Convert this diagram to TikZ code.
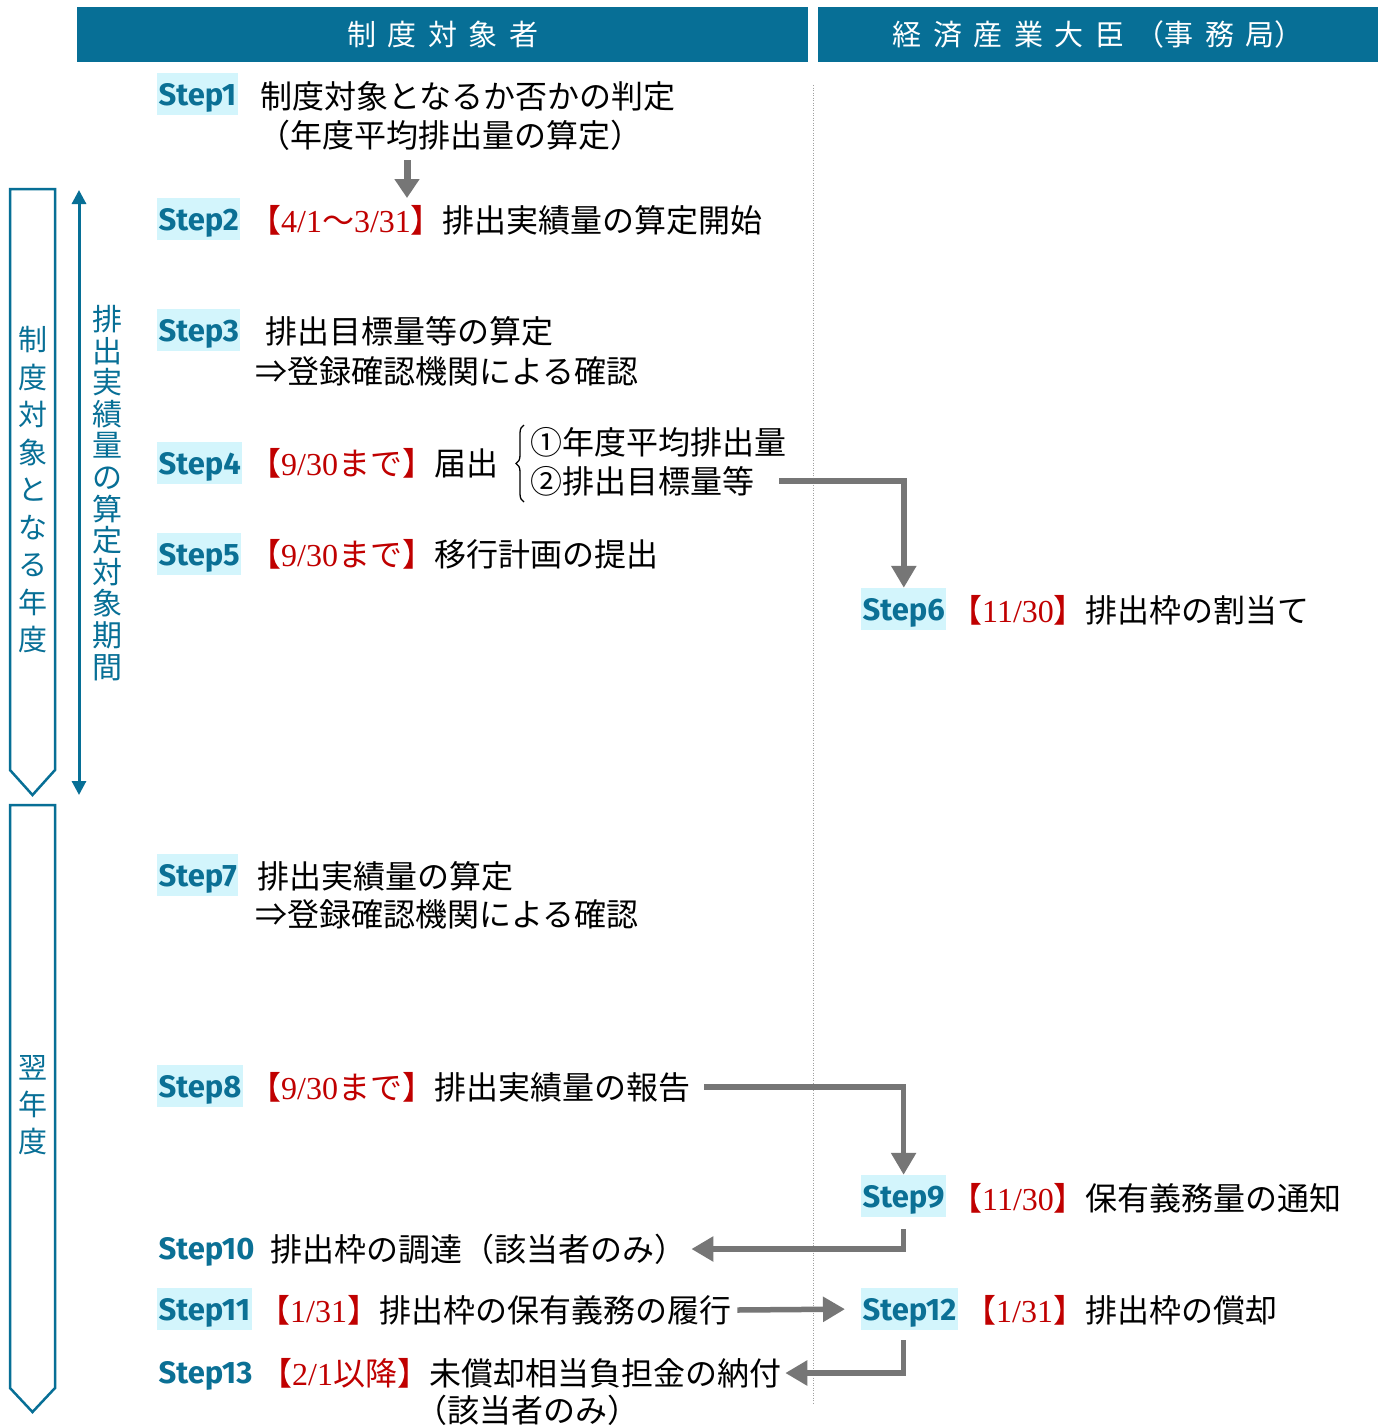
\documentclass[tikz,border=0pt]{standalone}
\usepackage{fontspec}
\setmainfont{Noto Sans CJK JP}
\newfontfamily\stepfont{Fira Sans}
\newfontfamily\numfont{Liberation Serif}
\usetikzlibrary{arrows.meta,decorations.pathreplacing}
\definecolor{hdr}{HTML}{076F96}
\definecolor{steptx}{HTML}{0B7095}
\definecolor{hlcyan}{HTML}{D3F5FC}
\definecolor{myred}{HTML}{C00000}
\definecolor{arrgray}{HTML}{767676}
\definecolor{dotgray}{HTML}{A0A0A0}
\newcommand\rdt[1]{\textcolor{myred}{#1}}
\newcommand\nm[1]{{\numfont #1}}
\newcommand\hsp{\hspace{11.5pt}}
\tikzset{
  txt/.style={anchor=west, inner sep=0pt, font=\fontsize{32}{38}\selectfont},
  steplbl/.style={anchor=west, fill=hlcyan, text=steptx, font=\stepfont\bfseries\fontsize{31}{34}\selectfont, inner xsep=1.5pt, inner ysep=0pt, text height=32pt, text depth=10pt},
  stepplain/.style={steplbl, fill=none},
  vtxt/.style={text=hdr, align=center, inner sep=0pt},
  hdrbox/.style={fill=hdr, text=white, anchor=north west, minimum height=55pt, inner sep=0pt, font=\fontsize{29}{32}\selectfont},
  yearbox/.style={draw=hdr, line width=2.5pt, fill=white, line join=miter},
  garrow/.style={draw=arrgray, line width=5.5pt, line join=miter, -{Triangle[length=22pt,width=24pt]}}
}
\begin{document}
\begin{tikzpicture}[x=1pt,y=-1pt]
\useasboundingbox (0,0) rectangle (1381,1428);
\fill[white] (0,0) rectangle (1381,1428);

% headers
\node[hdrbox, minimum width=731pt] (h1) at (77,7) {制\hsp 度\hsp 対\hsp 象\hsp 者};
\node[hdrbox, minimum width=560pt] (h2) at (818,7) {経\hsp 済\hsp 産\hsp 業\hsp 大\hsp 臣\hsp （事\hsp 務\hsp 局）};

% divider
\draw[dotgray, line width=1pt, dash pattern=on 1pt off 1.5pt] (813,85) -- (813,1405);

% year arrows
\draw[yearbox] (10,189) -- (55,189) -- (55,770) -- (32.5,795) -- (10,770) -- cycle;
\draw[yearbox] (10,805) -- (55,805) -- (55,1388) -- (32.5,1412) -- (10,1388) -- cycle;
\node[vtxt, font=\fontsize{29}{37.5}\selectfont] (v1) at (33,490) {制\\度\\対\\象\\と\\な\\る\\年\\度};
\node[vtxt, font=\fontsize{29}{37}\selectfont] (v3) at (33,1105) {翌\\年\\度};

% period double arrow
\coordinate (pa) at (79,190);
\coordinate (pb) at (79,795);
\draw[hdr, line width=3pt, {Triangle[length=14pt,width=14pt]}-{Triangle[length=14pt,width=14pt]}] (pa) -- (pb);
\node[vtxt, font=\fontsize{30}{31.6}\selectfont] (v2) at (107,493) {排\\出\\実\\績\\量\\の\\算\\定\\対\\象\\期\\間};

% Step 1
\node[steplbl] (s1) at (157,94) {Step1};
\node[txt] (t1) at (260,96) {制度対象となるか否かの判定};
\node[txt] (t1b) at (258,135) {（年度平均排出量の算定）};
\coordinate (d1) at (407,160);
\coordinate (d2) at (407,198);
\draw[arrgray, line width=7pt, -{Triangle[length=19pt,width=24pt]}] (d1) -- (d2);

% Step 2
\node[steplbl] (s2) at (157,219) {Step2};
\node[txt] (t2) at (249,220) {\rdt{【\nm{4/1}～\nm{3/31}】}排出実績量の算定開始};

% Step 3
\node[steplbl] (s3) at (157,330) {Step3};
\node[txt] (t3) at (265,331) {排出目標量等の算定};
\node[txt] (t3b) at (255,371) {⇒登録確認機関による確認};

% Step 4
\node[steplbl] (s4) at (157,463) {Step4};
\node[txt] (t4) at (249,463) {\rdt{【\nm{9/30}まで】}届出};
\draw[line width=1.3pt, decorate, decoration={brace, amplitude=8pt}] (524,502) -- (524,425);
\node[txt] (t4a) at (530,442) {①年度平均排出量};
\node[txt] (t4b) at (530,481) {②排出目標量等};

% Step 5
\node[steplbl] (s5) at (157,554) {Step5};
\node[txt] (t5) at (249,554) {\rdt{【\nm{9/30}まで】}移行計画の提出};

% Step 6
\node[steplbl] (s6) at (861,609) {Step6};
\node[txt] (t6) at (950,610) {\rdt{【\nm{11/30}】}排出枠の割当て};

% Step 7
\node[steplbl] (s7) at (157,875) {Step7};
\node[txt] (t7) at (257,876) {排出実績量の算定};
\node[txt] (t7b) at (255,914) {⇒登録確認機関による確認};

% Step 8
\node[steplbl] (s8) at (157,1086) {Step8};
\node[txt] (t8) at (249,1087) {\rdt{【\nm{9/30}まで】}排出実績量の報告};

% Step 9
\node[steplbl] (s9) at (861,1196) {Step9};
\node[txt] (t9) at (950,1198) {\rdt{【\nm{11/30}】}保有義務量の通知};

% Step 10
\node[stepplain] (s10) at (157,1248) {Step10};
\node[txt] (t10) at (270,1249) {排出枠の調達（該当者のみ）};

% Step 11
\node[steplbl] (s11) at (157,1309) {Step11};
\node[txt] (t11) at (258,1310) {\rdt{【\nm{1/31}】}排出枠の保有義務の履行};

% Step 12
\node[steplbl] (s12) at (861,1309) {Step12};
\node[txt] (t12) at (964,1310) {\rdt{【\nm{1/31}】}排出枠の償却};

% Step 13
\node[stepplain] (s13) at (157,1372) {Step13};
\node[txt] (t13) at (260,1373) {\rdt{【\nm{2/1}以降】}未償却相当負担金の納付};
\node[txt, anchor=center] (t13b) at (527,1410) {（該当者のみ）};

% connectors
\draw[garrow] ([xshift=25pt]t4b.east) -| (s6.north);
\draw[garrow] ([xshift=14pt]t8.east) -| (s9.north);
\draw[garrow] ([yshift=-12pt]s9.south) |- ([xshift=5pt]t10.east);
\draw[garrow, shorten >=16pt] ([xshift=6pt]t11.east) -- (s12.west);
\draw[garrow] ([yshift=-10pt]s12.south -| s9.south) |- ([xshift=4pt]t13.east);
\end{tikzpicture}
\end{document}
